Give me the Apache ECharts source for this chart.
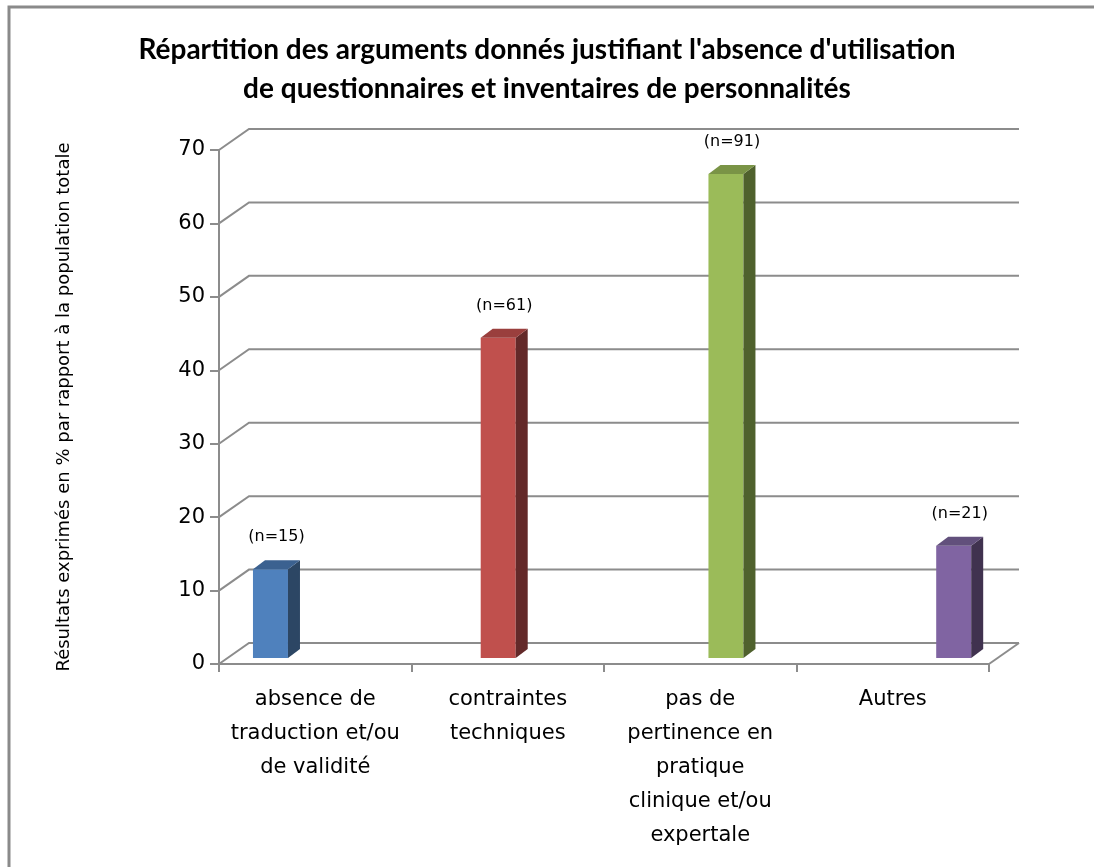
<!DOCTYPE html>
<html>
<head>
<meta charset="utf-8">
<script src="https://cdn.jsdelivr.net/npm/echarts@6/dist/echarts.min.js"></script>
<style>
html, body { margin: 0; padding: 0; background: #fff; }
#chart { width: 1094px; height: 867px; }
</style>
</head>
<body>
<div id="chart"></div>
<script>
var categories = [
    'absence de\ntraduction et/ou\nde validité',
    'contraintes\ntechniques',
    'pas de\npertinence en\npratique\nclinique et/ou\nexpertale',
    'Autres'
];
var values = [12.1, 43.6, 65.9, 15.3];
var counts = ['(n=15)', '(n=61)', '(n=91)', '(n=21)'];
var yTicks = [0, 10, 20, 30, 40, 50, 60, 70];

// front / side / top colours of each bar
var faceColors = [
    ['#4f81bd', '#2c4664', '#3b6190'],
    ['#c0504d', '#632929', '#9a3f3d'],
    ['#9bbb59', '#4f612d', '#7a9446'],
    ['#8064a2', '#40324f', '#62507c']
];

var gridColor = '#8c8c8c';
var depthX = 30, depthY = -21;
var titleFont = 'Lato, "Open Sans", sans-serif';
var font = '"DejaVu Sans", sans-serif';

var chart = echarts.init(document.getElementById('chart'));

var option = {
    backgroundColor: '#fff',
    animation: false,
    graphic: [{
        type: 'rect',
        shape: { x: 9, y: 7, width: 1300, height: 1000 },
        style: { fill: 'none', stroke: '#8a8a8a', lineWidth: 3 },
        silent: true
    }],
    title: {
        text: "Répartition des arguments donnés justifiant l'absence d'utilisation\nde questionnaires et inventaires de personnalités",
        left: 'center',
        top: 25,
        textStyle: {
            fontFamily: titleFont,
            fontWeight: 'bold',
            fontSize: 28,
            lineHeight: 39,
            color: '#000'
        }
    },
    grid: {
        left: 219,
        top: 150,
        width: 770,
        height: 514
    },
    xAxis: [
        {
            type: 'category',
            data: categories,
            axisLine: { lineStyle: { color: gridColor, width: 2 } },
            axisTick: { show: true, length: 8, lineStyle: { color: gridColor, width: 2 } },
            axisLabel: {
                margin: 19,
                fontFamily: font,
                fontSize: 21,
                lineHeight: 34,
                color: '#000',
                interval: 0
            },
            splitLine: { show: false }
        },
        {
            type: 'value',
            min: -0.226,
            max: 3.155,
            show: false
        }
    ],
    yAxis: {
        type: 'value',
        min: 0,
        max: 70,
        interval: 10,
        name: 'Résultats exprimés en % par rapport à la population totale',
        nameLocation: 'middle',
        nameRotate: 90,
        nameGap: 146,
        nameTextStyle: { fontFamily: font, fontSize: 18, color: '#000' },
        axisLine: { show: true, onZero: false, lineStyle: { color: gridColor, width: 2 } },
        axisTick: { show: true, length: 9, lineStyle: { color: gridColor, width: 2 } },
        axisLabel: { margin: 14, fontFamily: font, fontSize: 21, color: '#000' },
        splitLine: { show: false }
    },
    series: [
        {
            // back wall gridlines and side wall diagonals
            type: 'custom',
            xAxisIndex: 1,
            silent: true,
            z: 1,
            data: yTicks.map(function (v) { return [0, v]; }),
            renderItem: function (params, api) {
                var cs = params.coordSys;
                var y = api.coord([0, api.value(1)])[1];
                var left = cs.x, right = cs.x + cs.width;
                var children = [{
                    type: 'polyline',
                    shape: { points: [[left, y], [left + depthX, y + depthY], [right + depthX, y + depthY]] },
                    style: { stroke: gridColor, lineWidth: 2, fill: 'none' }
                }];
                if (api.value(1) === 0) {
                    children.push({
                        type: 'line',
                        shape: { x1: right, y1: y, x2: right + depthX, y2: y + depthY },
                        style: { stroke: gridColor, lineWidth: 2 }
                    });
                }
                return { type: 'group', children: children };
            }
        },
        {
            // 3D bars
            type: 'custom',
            xAxisIndex: 1,
            z: 3,
            data: values.map(function (v, i) { return [i, v]; }),
            renderItem: function (params, api) {
                var i = api.value(0);
                var base = api.coord([i, 0]);
                var top = api.coord([i, api.value(1)]);
                var c = base[0];
                var half = 17.5, dx = 12, dy = -9, lift = -6;
                var yb = base[1] + lift, yt = top[1] + lift;
                var col = faceColors[i];
                return {
                    type: 'group',
                    children: [
                        {
                            type: 'rect',
                            shape: { x: c - half, y: yt, width: half * 2, height: yb - yt },
                            style: { fill: col[0] }
                        },
                        {
                            type: 'polygon',
                            shape: { points: [[c + half, yt], [c + half + dx, yt + dy], [c + half + dx, yb + dy], [c + half, yb]] },
                            style: { fill: col[1] }
                        },
                        {
                            type: 'polygon',
                            shape: { points: [[c - half, yt], [c - half + dx, yt + dy], [c + half + dx, yt + dy], [c + half, yt]] },
                            style: { fill: col[2] }
                        },
                        {
                            type: 'text',
                            style: {
                                x: c + 6,
                                y: yt - 32,
                                text: counts[i],
                                align: 'center',
                                verticalAlign: 'middle',
                                fontFamily: font,
                                fontSize: 16,
                                fill: '#000'
                            }
                        }
                    ]
                };
            }
        }
    ]
};
chart.setOption(option);
</script>
</body>
</html>
